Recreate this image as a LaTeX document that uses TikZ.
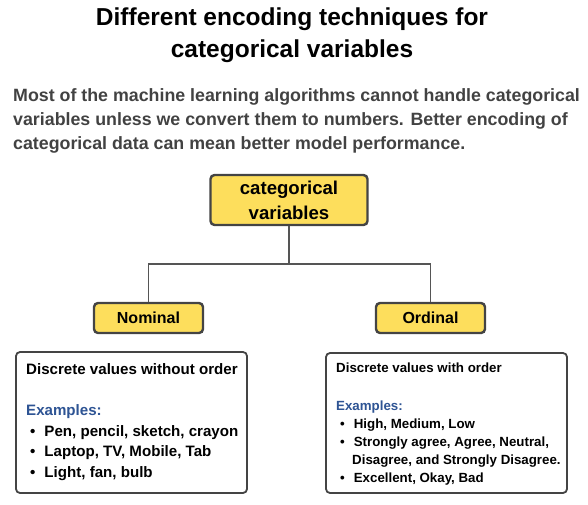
\documentclass[tikz,border=0pt]{standalone}
\usepackage{fontspec}
\setmainfont{Liberation Sans}
\usetikzlibrary{positioning}
\definecolor{catyellow}{RGB}{253,222,92}
\definecolor{boxborder}{RGB}{68,68,68}
\definecolor{linkgray}{RGB}{85,85,85}
\definecolor{exblue}{RGB}{46,84,148}
\definecolor{leadgray}{RGB}{66,66,66}
\newcommand{\catitem}[1]{\hspace*{4pt}\textbullet\hspace{9pt}#1}
\tikzset{
  catbox/.style={rectangle, rounded corners=4pt, draw=boxborder, line width=2.4pt,
    fill=catyellow, align=center, font=\bfseries},
  descbox/.style={rectangle, rounded corners=4pt, draw=boxborder, line width=1.8pt, fill=white},
  desctext/.style={anchor=north west, inner sep=0pt, align=left, font=\bfseries},
  link/.style={draw=linkgray, line width=1.4pt}
}
\begin{document}
\begin{tikzpicture}[x=1pt, y=-1pt]
  \useasboundingbox (0,0) rectangle (588,504);
  % heading and lead text
  \node[align=center, font=\fontsize{24.5}{32}\selectfont\bfseries] (title) at (292,35)
    {Different encoding techniques for\\categorical variables};
  \node[anchor=west, align=left, text=leadgray, inner sep=0pt,
        font=\fontsize{17.8}{24}\selectfont\bfseries] (lead) at (13,121)
    {Most of the machine learning algorithms cannot handle categorical\\
     variables unless we convert them to numbers. Better encoding of\\
     categorical data can mean better model performance.};
  % tree
  \node[catbox, minimum width=157pt, minimum height=50pt,
        font=\fontsize{18.6}{25}\selectfont\bfseries] (cat) at (289,200)
    {categorical\\variables};
  \node[catbox, minimum width=109pt, minimum height=30pt,
        font=\fontsize{16}{18}\selectfont\bfseries] (nom) at (148.5,318) {Nominal};
  \node[catbox, minimum width=109pt, minimum height=30pt,
        font=\fontsize{16}{18}\selectfont\bfseries] (ord) at (430.5,318) {Ordinal};
  \coordinate (split) at (289,264);
  \draw[link] (cat.south) -- (split) -| (nom.north);
  \draw[link] (split) -| (ord.north);
  % description boxes
  \node[descbox, minimum width=231pt, minimum height=141pt] (nombox) at (131.5,422.5) {};
  \node[descbox, minimum width=241pt, minimum height=140pt] (ordbox) at (446.5,423) {};
  \node[desctext, font=\fontsize{15.1}{20.5}\selectfont\bfseries] (nomtext) at (26,363)
    {Discrete values without order\\[21pt]
     \textcolor{exblue}{Examples:}\\
     \catitem{Pen, pencil, sketch, crayon}\\
     \catitem{Laptop, TV, Mobile, Tab}\\
     \catitem{Light, fan, bulb}};
  \node[desctext, font=\fontsize{13.3}{18}\selectfont\bfseries] (ordtext) at (336,363)
    {Discrete values with order\\[20pt]
     \textcolor{exblue}{Examples:}\\
     \catitem{High, Medium, Low}\\
     \catitem{Strongly agree, Agree, Neutral,}\\
     \hspace*{16pt}Disagree, and Strongly Disagree.\\
     \catitem{Excellent, Okay, Bad}};
\end{tikzpicture}
\end{document}
